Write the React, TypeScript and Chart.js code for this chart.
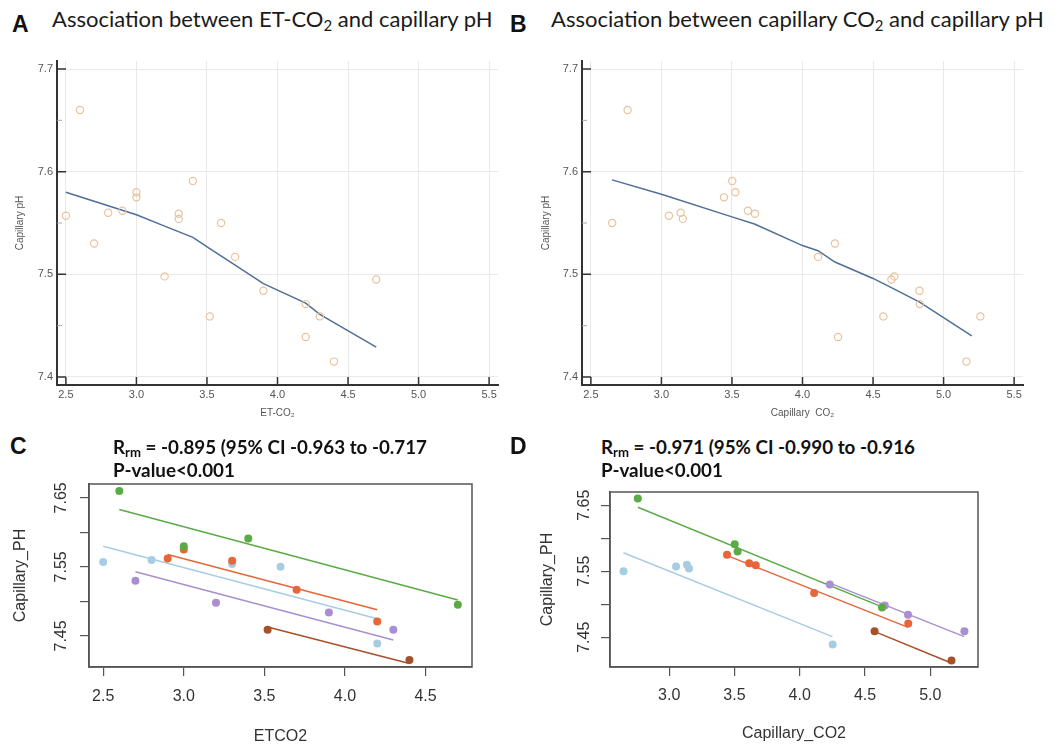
import React, { useEffect, useRef } from 'react';
import { Chart, registerables } from 'chart.js';
Chart.register(...registerables);

const SANS = '"Liberation Sans", Arial, sans-serif';
const LATO = 'Lato, "Open Sans", sans-serif';

// ---------- Data: repeated measurements, one array per subject ----------
const subjectColors = ['#5aab46', '#e8653a', '#a8cde3', '#a98fcf', '#a5512a'];

const etco2Green = [2.6, 3.0, 3.4, 4.7];
const capco2Green = [2.76, 3.524, 3.502, 4.63];
const phGreen = [7.66, 7.58, 7.591, 7.495];

const etco2Orange = [2.9, 3.0, 3.3, 3.7, 4.2];
const capco2Orange = [3.613, 3.443, 3.663, 4.11, 4.831];
const phOrange = [7.562, 7.575, 7.559, 7.517, 7.471];

const etco2Blue = [2.5, 2.8, 3.3, 3.6, 4.2];
const capco2Blue = [3.053, 3.136, 3.152, 2.651, 4.252];
const phBlue = [7.557, 7.56, 7.554, 7.55, 7.439];

const etco2Purple = [2.7, 3.2, 3.9, 4.3];
const capco2Purple = [4.23, 4.651, 4.829, 5.261];
const phPurple = [7.53, 7.498, 7.484, 7.459];

const etco2Brown = [3.52, 4.4];
const capco2Brown = [4.573, 5.162];
const phBrown = [7.459, 7.415];

const etco2BySubject = [etco2Green, etco2Orange, etco2Blue, etco2Purple, etco2Brown];
const capco2BySubject = [capco2Green, capco2Orange, capco2Blue, capco2Purple, capco2Brown];
const phBySubject = [phGreen, phOrange, phBlue, phPurple, phBrown];

// Smoothed (loess) curves, panels A and B
const loessAX = [2.5, 3.0, 3.2, 3.4, 3.52, 3.7, 3.9, 4.2, 4.3, 4.7];
const loessAY = [7.58, 7.558, 7.547, 7.536, 7.525, 7.509, 7.491, 7.472, 7.461, 7.429];
const loessBX = [2.65, 3.0, 3.5, 3.66, 4.0, 4.11, 4.23, 4.5, 4.63, 4.83, 5.2];
const loessBY = [7.592, 7.578, 7.556, 7.549, 7.528, 7.523, 7.512, 7.496, 7.487, 7.473, 7.44];

// Repeated-measures correlation fitted lines (start, end) per subject
const rmLineCX = [[2.6, 4.7], [2.9, 4.2], [2.5, 4.2], [2.7, 4.3], [3.52, 4.4]];
const rmLineCY = [[7.633, 7.502], [7.568, 7.488], [7.58, 7.475], [7.543, 7.444], [7.463, 7.41]];
const rmLineDX = [[2.76, 4.63], [3.44, 4.83], [2.65, 4.25], [4.23, 5.26], [4.57, 5.16]];
const rmLineDY = [[7.647, 7.496], [7.574, 7.465], [7.578, 7.451], [7.532, 7.451], [7.459, 7.411]];

// Ticks
const abXTicks = [2.5, 3.0, 3.5, 4.0, 4.5, 5.0, 5.5];
const abYTicks = [7.4, 7.5, 7.6, 7.7];
const abYMinorTicks = [7.45, 7.55, 7.65];
const cXTicks = [2.5, 3.0, 3.5, 4.0, 4.5];
const dXTicks = [3.0, 3.5, 4.0, 4.5, 5.0];
const cdYTicks = [7.45, 7.5, 7.55, 7.6, 7.65];
const cdYLabels = ['7.45', '', '7.55', '', '7.65'];

// ---------- helpers ----------
const zip = (xs: number[], ys: number[]) => xs.map((x, i) => ({ x, y: ys[i] }));

const innerTicksPlugin = {
  id: 'innerTicks',
  afterDraw(chart: any) {
    const { ctx, chartArea: a, scales } = chart;
    const xs = scales.x;
    const ys = scales.y;
    ctx.save();
    ctx.strokeStyle = '#333';
    ctx.lineWidth = 1.5;
    ctx.beginPath();
    abXTicks.forEach((v) => {
      const p = xs.getPixelForValue(v);
      ctx.moveTo(p, a.bottom);
      ctx.lineTo(p, a.bottom - 8);
    });
    abYTicks.forEach((v) => {
      const p = ys.getPixelForValue(v);
      ctx.moveTo(a.left, p);
      ctx.lineTo(a.left + 9, p);
    });
    ctx.stroke();
    ctx.strokeStyle = '#aaa';
    ctx.lineWidth = 1;
    ctx.beginPath();
    abYMinorTicks.forEach((v) => {
      const p = ys.getPixelForValue(v);
      ctx.moveTo(a.left, p);
      ctx.lineTo(a.left + 5, p);
    });
    ctx.stroke();
    ctx.restore();
  },
};

const boxPlugin = {
  id: 'rbox',
  beforeDatasetsDraw(chart: any) {
    const { ctx, chartArea: a } = chart;
    ctx.save();
    ctx.strokeStyle = '#555';
    ctx.lineWidth = 1.5;
    ctx.strokeRect(a.left, a.top, a.right - a.left, a.bottom - a.top);
    ctx.restore();
  },
};

function abConfig(opts: {
  points: { x: number; y: number }[];
  loess: { x: number; y: number }[];
  xTitle: string;
  yTitlePad: number;
  padding: any;
  yWidth: number;
}) {
  return {
    type: 'scatter',
    data: {
      datasets: [
        {
          data: opts.points,
          pointStyle: 'circle',
          pointRadius: 3.6,
          pointBorderWidth: 1.2,
          pointBorderColor: '#e9c29c',
          pointBackgroundColor: 'rgba(255,255,255,0)',
          showLine: false,
        },
        {
          data: opts.loess,
          showLine: true,
          borderColor: '#4f6f96',
          borderWidth: 1.5,
          pointRadius: 0,
          tension: 0,
        },
      ],
    },
    options: {
      animation: false,
      responsive: false,
      layout: { padding: opts.padding },
      plugins: { legend: { display: false }, tooltip: { enabled: false } },
      scales: {
        x: {
          type: 'linear',
          bounds: 'data',
          min: 2.437,
          max: 5.563,
          afterBuildTicks: (s: any) => {
            s.ticks = abXTicks.map((v) => ({ value: v }));
          },
          afterFit: (s: any) => {
            s.height = 45;
          },
          ticks: {
            callback: (v: number) => v.toFixed(1),
            padding: 3,
            autoSkip: false,
            maxRotation: 0,
            font: { family: SANS, size: 11 },
            color: '#555',
          },
          grid: { color: '#e9e9e9', lineWidth: 1, drawTicks: false },
          border: { display: true, color: '#333', width: 2 },
          title: {
            display: true,
            text: opts.xTitle,
            font: { family: SANS, size: 10 },
            color: '#555',
            padding: { top: 0, bottom: 11 },
          },
        },
        y: {
          type: 'linear',
          bounds: 'data',
          min: 7.3922,
          max: 7.7078,
          afterBuildTicks: (s: any) => {
            s.ticks = abYTicks.map((v) => ({ value: v }));
          },
          afterFit: (s: any) => {
            s.width = opts.yWidth;
          },
          ticks: {
            callback: (v: number) => v.toFixed(1),
            padding: 4,
            autoSkip: false,
            font: { family: SANS, size: 11 },
            color: '#555',
          },
          grid: { color: '#e9e9e9', lineWidth: 1, drawTicks: false },
          border: { display: true, color: '#333', width: 2 },
          title: {
            display: true,
            text: 'Capillary pH',
            font: { family: SANS, size: 10 },
            color: '#555',
            padding: { top: opts.yTitlePad, bottom: 0 },
          },
        },
      },
    },
    plugins: [innerTicksPlugin],
  };
}

function cdConfig(opts: {
  xBySubject: number[][];
  lineX: number[][];
  lineY: number[][];
  xMin: number;
  xMax: number;
  xTicks: number[];
  xTitle: string;
  padding: any;
  xTickPad: number;
  xTitlePad: number;
  yTickPad: number;
  yTitlePad: number;
}) {
  const pointSets = opts.xBySubject.map((xs, s) => ({
    data: zip(xs, phBySubject[s]),
    showLine: false,
    pointStyle: 'circle',
    pointRadius: 4,
    pointBorderWidth: 0,
    pointBackgroundColor: subjectColors[s],
    pointBorderColor: subjectColors[s],
  }));
  const lineSets = opts.lineX.map((xs, s) => ({
    data: zip(xs, opts.lineY[s]),
    showLine: true,
    borderColor: subjectColors[s],
    borderWidth: 1.5,
    pointRadius: 0,
  }));
  return {
    type: 'scatter',
    data: { datasets: [...pointSets, ...lineSets] },
    options: {
      animation: false,
      responsive: false,
      layout: { padding: opts.padding },
      plugins: { legend: { display: false }, tooltip: { enabled: false } },
      scales: {
        x: {
          type: 'linear',
          bounds: 'data',
          min: opts.xMin,
          max: opts.xMax,
          afterBuildTicks: (s: any) => {
            s.ticks = opts.xTicks.map((v) => ({ value: v }));
          },
          afterFit: (s: any) => {
            s.height = 79;
          },
          ticks: {
            callback: (v: number) => v.toFixed(1),
            padding: opts.xTickPad,
            autoSkip: false,
            maxRotation: 0,
            font: { family: SANS, size: 16 },
            color: '#333',
          },
          grid: { drawOnChartArea: false, drawTicks: true, tickLength: 9, color: '#555', lineWidth: 1.2 },
          border: { display: true, color: '#555', width: 1.5 },
          title: {
            display: true,
            text: opts.xTitle,
            font: { family: SANS, size: 16 },
            color: '#333',
            padding: { top: 0, bottom: opts.xTitlePad },
          },
        },
        y: {
          type: 'linear',
          bounds: 'data',
          min: 7.405,
          max: 7.67,
          afterBuildTicks: (s: any) => {
            s.ticks = cdYTicks.map((v) => ({ value: v }));
          },
          afterFit: (s: any) => {
            s.width = 89;
          },
          ticks: {
            callback: (_v: number, i: number) => cdYLabels[i],
            minRotation: 90,
            maxRotation: 90,
            crossAlign: 'center',
            padding: opts.yTickPad,
            autoSkip: false,
            font: { family: SANS, size: 16 },
            color: '#333',
          },
          grid: { drawOnChartArea: false, drawTicks: true, tickLength: 9, color: '#555', lineWidth: 1.2 },
          border: { display: true, color: '#555', width: 1.5 },
          title: {
            display: true,
            text: 'Capillary_PH',
            font: { family: SANS, size: 16 },
            color: '#333',
            padding: { top: opts.yTitlePad, bottom: 0 },
          },
        },
      },
    },
    plugins: [boxPlugin],
  };
}

function ChartCanvas(props: { left: number; top: number; width: number; height: number; make: () => any }) {
  const ref = useRef<HTMLCanvasElement>(null);
  useEffect(() => {
    const chart = new Chart(ref.current as HTMLCanvasElement, props.make());
    return () => chart.destroy();
  }, []);
  return (
    <canvas
      ref={ref}
      width={props.width}
      height={props.height}
      style={{ position: 'absolute', left: props.left, top: props.top, width: props.width, height: props.height }}
    />
  );
}

const Sub = (p: { children: any; size?: string; drop?: string }) => (
  <span style={{ fontSize: p.size || '0.68em', position: 'relative', top: p.drop || '0.3em' }}>{p.children}</span>
);

const letterStyle = (left: number, top: number): React.CSSProperties => ({
  position: 'absolute',
  left,
  top,
  font: `bold 23px ${SANS}`,
  lineHeight: '1',
  color: '#111',
});
const headStyle = (left: number, top: number): React.CSSProperties => ({
  position: 'absolute',
  left,
  top,
  font: `22px ${LATO}`,
  lineHeight: '1',
  color: '#1a1a1a',
  whiteSpace: 'nowrap',
});
const statStyle = (left: number, top: number): React.CSSProperties => ({
  position: 'absolute',
  left,
  top,
  font: `bold 18.8px ${LATO}`,
  lineHeight: '1',
  color: '#111',
  whiteSpace: 'nowrap',
});

export default function App() {
  const allEt = etco2BySubject.flat();
  const allCap = capco2BySubject.flat();
  const allPh = phBySubject.flat();
  return (
    <div style={{ position: 'absolute', left: 0, top: 0, width: 1062, height: 746, background: '#fff', overflow: 'hidden' }}>
      <ChartCanvas
        left={0}
        top={40}
        width={531}
        height={390}
        make={() =>
          abConfig({
            points: zip(allEt, allPh),
            loess: zip(loessAX, loessAY),
            xTitle: 'ET-CO₂',
            yTitlePad: 14,
            padding: { top: 21, right: 33, left: 0, bottom: 0 },
            yWidth: 57,
          })
        }
      />
      <ChartCanvas
        left={531}
        top={40}
        width={531}
        height={390}
        make={() =>
          abConfig({
            points: zip(allCap, allPh),
            loess: zip(loessBX, loessBY),
            xTitle: 'Capillary  CO₂',
            yTitlePad: 9,
            padding: { top: 21, right: 39, left: 0, bottom: 0 },
            yWidth: 51,
          })
        }
      />
      <ChartCanvas
        left={0}
        top={470}
        width={531}
        height={276}
        make={() =>
          cdConfig({
            xBySubject: etco2BySubject,
            lineX: rmLineCX,
            lineY: rmLineCY,
            xMin: 2.412,
            xMax: 4.788,
            xTicks: cXTicks,
            xTitle: 'ETCO2',
            padding: { top: 14, right: 59, left: 0, bottom: 0 },
            xTickPad: 11,
            xTitlePad: 0,
            yTickPad: 3,
            yTitlePad: 11,
          })
        }
      />
      <ChartCanvas
        left={521}
        top={470}
        width={541}
        height={276}
        make={() =>
          cdConfig({
            xBySubject: capco2BySubject,
            lineX: rmLineDX,
            lineY: rmLineDY,
            xMin: 2.547,
            xMax: 5.365,
            xTicks: dXTicks,
            xTitle: 'Capillary_CO2',
            padding: { top: 22, right: 84, left: 0, bottom: 0 },
            xTickPad: 10,
            xTitlePad: 3,
            yTickPad: 1,
            yTitlePad: 17,
          })
        }
      />

      <div style={letterStyle(12, 13)}>A</div>
      <div style={headStyle(52, 8)}>
        Association between ET-CO<Sub>2</Sub> and capillary pH
      </div>
      <div style={letterStyle(510, 13)}>B</div>
      <div style={headStyle(551, 8)}>
        Association between capillary CO<Sub>2</Sub> and capillary pH
      </div>

      <div style={letterStyle(10, 435)}>C</div>
      <div style={statStyle(113, 438)}>
        R<Sub size="0.7em" drop="0.25em">rm</Sub> = -0.895 (95% CI -0.963 to -0.717
      </div>
      <div style={statStyle(113, 461)}>P-value&lt;0.001</div>

      <div style={letterStyle(510, 435)}>D</div>
      <div style={statStyle(601, 438)}>
        R<Sub size="0.7em" drop="0.25em">rm</Sub> = -0.971 (95% CI -0.990 to -0.916
      </div>
      <div style={statStyle(601, 461)}>P-value&lt;0.001</div>
    </div>
  );
}
